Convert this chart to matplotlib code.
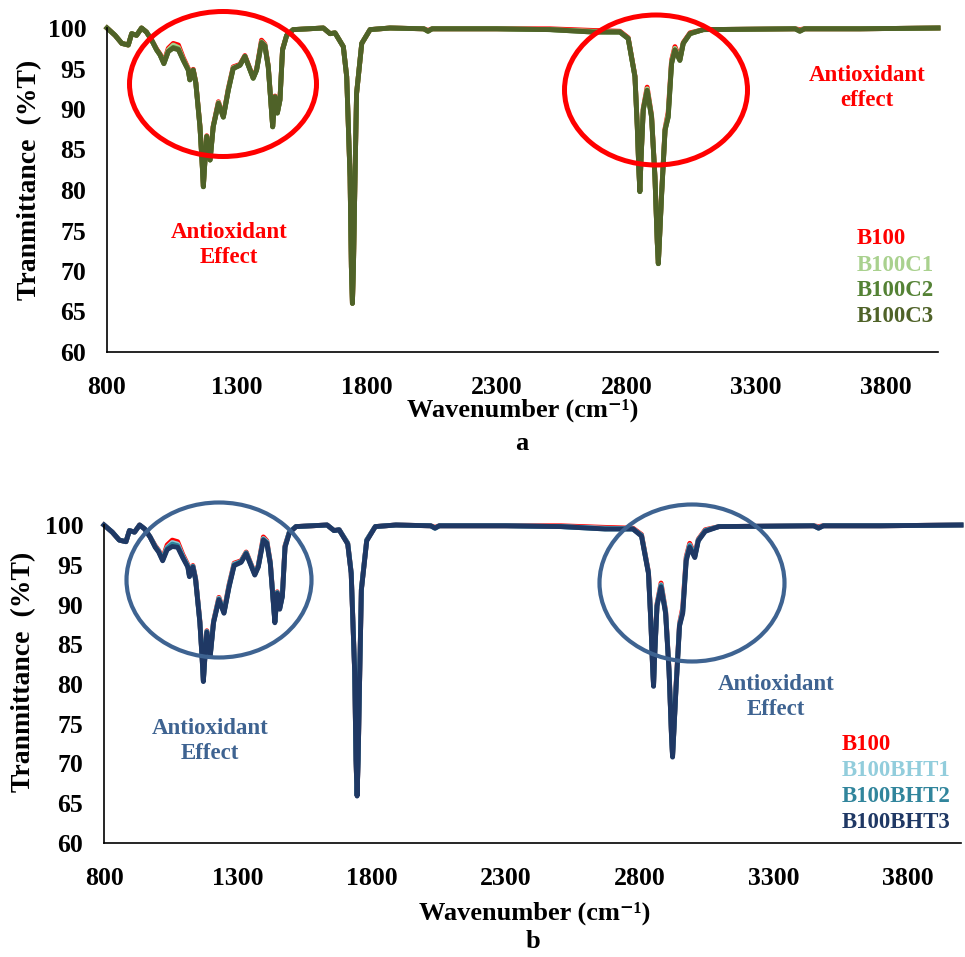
import matplotlib
matplotlib.use("Agg")
import matplotlib.pyplot as plt
from matplotlib.patches import Ellipse

plt.rcParams['font.family'] = ['Liberation Serif', 'DejaVu Serif']
plt.rcParams['font.weight'] = 'bold'

# wavenumber (cm-1) and transmittance (%T)
wn = [800, 831, 857, 882, 895, 914, 933, 952, 972, 991,
      1004, 1019, 1036, 1055, 1075, 1094, 1113, 1119, 1132, 1142,
      1158, 1166, 1171, 1176, 1184, 1197, 1209, 1229, 1248, 1267,
      1286, 1312, 1331, 1344, 1363, 1376, 1395, 1408, 1421, 1438,
      1447, 1456, 1466, 1476, 1492, 1517, 1633, 1659, 1678, 1710,
      1723, 1736, 1741, 1745, 1749, 1755, 1761, 1781, 1813, 1890,
      2020, 2036, 2052, 2300, 2506, 2671, 2775, 2807, 2833, 2842,
      2848, 2852, 2856, 2865, 2880, 2897, 2910, 2919, 2923, 2927,
      2936, 2949, 2961, 2974, 2987, 3006, 3019, 3045, 3096, 3450,
      3468, 3486, 3700, 4000]

b100 = [100.0, 99.1, 98.1, 97.9, 99.3, 99.1, 100.0, 99.5, 98.5, 97.4,
        96.8, 95.8, 97.5, 98.1, 97.9, 96.3, 95.0, 93.7, 94.9, 93.3,
        87.9, 83.6, 80.5, 83.1, 86.7, 83.8, 87.9, 90.9, 89.1, 92.5,
        95.2, 95.5, 96.6, 95.5, 93.9, 94.9, 98.5, 98.0, 95.3, 87.9,
        91.6, 89.6, 91.2, 97.4, 99.1, 99.8, 100.0, 99.3, 99.4, 97.7,
        94.0, 81.6, 70.5, 66.0, 70.5, 81.6, 91.9, 98.1, 99.8, 100.0,
        99.9, 99.7, 99.9, 99.9, 99.9, 99.7, 99.6, 98.8, 94.1, 87.9,
        82.6, 79.9, 83.6, 90.1, 92.7, 89.2, 81.7, 73.6, 71.0, 73.6,
        79.8, 87.6, 89.6, 96.0, 97.7, 96.2, 98.2, 99.4, 99.8, 99.9,
        99.8, 99.9, 99.9, 100.0]

b100c1 = [100.0, 99.1, 98.1, 97.9, 99.3, 99.1, 100.0, 99.5, 98.5, 97.3,
          96.7, 95.7, 97.3, 97.9, 97.6, 96.1, 94.9, 93.6, 94.8, 93.2,
          87.8, 83.5, 80.4, 83.0, 86.6, 83.7, 87.8, 90.8, 89.0, 92.4,
          95.1, 95.4, 96.5, 95.4, 93.8, 94.8, 98.3, 97.9, 95.2, 87.8,
          91.5, 89.5, 91.1, 97.3, 99.1, 99.8, 100.0, 99.3, 99.4, 97.7,
          94.0, 81.6, 70.5, 66.0, 70.5, 81.6, 91.9, 98.1, 99.8, 100.0,
          99.9, 99.6, 99.9, 99.9, 99.8, 99.6, 99.5, 98.7, 94.0, 87.8,
          82.5, 79.8, 83.5, 90.0, 92.5, 89.1, 81.6, 73.5, 70.9, 73.5,
          79.7, 87.5, 89.3, 95.8, 97.5, 96.1, 98.1, 99.3, 99.8, 99.9,
          99.7, 99.9, 99.9, 100.0]

b100c2 = [100.0, 99.1, 98.1, 97.9, 99.3, 99.1, 100.0, 99.5, 98.5, 97.3,
          96.7, 95.6, 97.1, 97.6, 97.4, 96.0, 94.8, 93.6, 94.8, 93.2,
          87.8, 83.5, 80.4, 83.0, 86.6, 83.7, 87.8, 90.7, 89.0, 92.3,
          95.0, 95.4, 96.5, 95.4, 93.8, 94.8, 98.2, 97.8, 95.2, 87.8,
          91.5, 89.5, 91.1, 97.3, 99.1, 99.8, 100.0, 99.3, 99.4, 97.7,
          94.0, 81.6, 70.5, 66.0, 70.5, 81.6, 91.9, 98.1, 99.8, 100.0,
          99.9, 99.6, 99.9, 99.9, 99.8, 99.5, 99.5, 98.7, 94.0, 87.8,
          82.5, 79.8, 83.5, 89.9, 92.3, 89.0, 81.6, 73.5, 70.9, 73.5,
          79.6, 87.4, 89.0, 95.6, 97.3, 96.0, 98.1, 99.3, 99.8, 99.9,
          99.6, 99.9, 99.9, 100.0]

b100c3 = [100.0, 99.1, 98.1, 97.9, 99.3, 99.1, 100.0, 99.5, 98.5, 97.3,
          96.7, 95.6, 97.1, 97.5, 97.3, 96.0, 94.8, 93.6, 94.8, 93.2,
          87.8, 83.5, 80.4, 83.0, 86.6, 83.7, 87.8, 90.7, 89.0, 92.3,
          95.0, 95.4, 96.5, 95.4, 93.8, 94.8, 98.2, 97.8, 95.2, 87.8,
          91.5, 89.5, 91.1, 97.3, 99.1, 99.8, 100.0, 99.3, 99.4, 97.7,
          94.0, 81.6, 70.5, 66.0, 70.5, 81.6, 91.9, 98.1, 99.8, 100.0,
          99.9, 99.6, 99.9, 99.9, 99.8, 99.5, 99.5, 98.7, 94.0, 87.8,
          82.5, 79.8, 83.5, 89.9, 92.3, 89.0, 81.6, 73.5, 70.9, 73.5,
          79.6, 87.4, 89.0, 95.6, 97.3, 96.0, 98.1, 99.3, 99.8, 99.9,
          99.6, 99.9, 99.9, 100.0]

b100bht1 = [100.0, 99.1, 98.1, 97.9, 99.3, 99.1, 100.0, 99.5, 98.5, 97.3,
            96.7, 95.7, 97.2, 97.8, 97.6, 96.1, 94.9, 93.6, 94.8, 93.2,
            87.8, 83.5, 80.4, 83.0, 86.6, 83.7, 87.8, 90.8, 89.0, 92.4,
            95.1, 95.4, 96.5, 95.4, 93.8, 94.8, 98.3, 97.9, 95.2, 87.8,
            91.5, 89.5, 91.1, 97.3, 99.1, 99.8, 100.0, 99.3, 99.4, 97.7,
            94.0, 81.6, 70.5, 66.0, 70.5, 81.6, 91.9, 98.1, 99.8, 100.0,
            99.9, 99.6, 99.9, 99.9, 99.8, 99.6, 99.5, 98.7, 94.0, 87.8,
            82.5, 79.8, 83.5, 90.0, 92.5, 89.1, 81.6, 73.5, 70.9, 73.5,
            79.7, 87.5, 89.3, 95.8, 97.5, 96.1, 98.1, 99.3, 99.8, 99.9,
            99.7, 99.9, 99.9, 100.0]

b100bht2 = [100.0, 99.1, 98.1, 97.9, 99.3, 99.1, 100.0, 99.5, 98.5, 97.3,
            96.7, 95.6, 97.1, 97.6, 97.4, 96.0, 94.8, 93.6, 94.8, 93.2,
            87.8, 83.5, 80.4, 83.0, 86.6, 83.7, 87.8, 90.7, 89.0, 92.3,
            95.0, 95.4, 96.5, 95.4, 93.8, 94.8, 98.2, 97.8, 95.2, 87.8,
            91.5, 89.5, 91.1, 97.3, 99.1, 99.8, 100.0, 99.3, 99.4, 97.7,
            94.0, 81.6, 70.5, 66.0, 70.5, 81.6, 91.9, 98.1, 99.8, 100.0,
            99.9, 99.6, 99.9, 99.9, 99.8, 99.5, 99.5, 98.7, 94.0, 87.8,
            82.5, 79.8, 83.5, 89.9, 92.4, 89.0, 81.6, 73.5, 70.9, 73.5,
            79.6, 87.4, 89.1, 95.7, 97.4, 96.0, 98.1, 99.3, 99.8, 99.9,
            99.6, 99.9, 99.9, 100.0]

b100bht3 = [100.0, 99.1, 98.1, 97.9, 99.3, 99.1, 100.0, 99.5, 98.5, 97.2,
            96.6, 95.5, 96.9, 97.3, 97.2, 95.9, 94.7, 93.5, 94.7, 93.1,
            87.7, 83.4, 80.3, 82.9, 86.5, 83.6, 87.7, 90.6, 88.9, 92.2,
            94.9, 95.3, 96.4, 95.3, 93.7, 94.7, 98.1, 97.7, 95.1, 87.7,
            91.4, 89.4, 91.0, 97.2, 99.0, 99.8, 100.0, 99.3, 99.4, 97.6,
            93.9, 81.5, 70.4, 65.9, 70.4, 81.5, 91.8, 98.0, 99.8, 100.0,
            99.9, 99.6, 99.9, 99.9, 99.8, 99.5, 99.5, 98.6, 93.9, 87.7,
            82.4, 79.7, 83.4, 89.8, 92.2, 88.9, 81.5, 73.4, 70.8, 73.4,
            79.5, 87.3, 88.9, 95.5, 97.2, 95.9, 98.0, 99.2, 99.8, 99.9,
            99.6, 99.9, 99.9, 100.0]

names_a = ['B100', 'B100C1', 'B100C2', 'B100C3']
series_a = [b100, b100c1, b100c2, b100c3]
colors_a = ['#FF0000', '#A9D18E', '#548235', '#4F6228']

names_b = ['B100', 'B100BHT1', 'B100BHT2', 'B100BHT3']
series_b = [b100, b100bht1, b100bht2, b100bht3]
colors_b = ['#FF0000', '#92CDDC', '#31859C', '#1F3864']

xticks = [800, 1300, 1800, 2300, 2800, 3300, 3800]
yticks = [60, 65, 70, 75, 80, 85, 90, 95, 100]

W, H = 965, 957
fig = plt.figure(figsize=(W / 100, H / 100), dpi=100)


def box(x0, y0, x1, y1):
    # pixel box (top-left origin) -> figure fraction rect
    return [x0 / W, 1 - y1 / H, (x1 - x0) / W, (y1 - y0) / H]


def style(ax):
    ax.set_xlim(800, 4000)
    ax.set_ylim(60, 100)
    ax.set_xticks(xticks)
    ax.set_yticks(yticks)
    ax.tick_params(axis='x', length=0, labelsize=18.5, pad=17)
    ax.tick_params(axis='y', length=0, labelsize=18.5, pad=15)
    for s in ['top', 'right']:
        ax.spines[s].set_visible(False)
    for s in ['left', 'bottom']:
        ax.spines[s].set_linewidth(1.2)
        ax.spines[s].set_color('black')
    ax.patch.set_alpha(0)


ax1 = fig.add_axes(box(107, 28, 938, 352))
for y, c in zip(series_a, colors_a):
    ax1.plot(wn, y, color=c, lw=3.5, solid_joinstyle='round', clip_on=False)
style(ax1)

ax2 = fig.add_axes(box(104, 525, 961, 843))
for y, c in zip(series_b, colors_b):
    ax2.plot(wn, y, color=c, lw=3.5, solid_joinstyle='round', clip_on=False)
style(ax2)


def ftext(x, y, s, **kw):
    fig.text(x / W, 1 - y / H, s, ha='center', va='center', fontweight='bold', **kw)


# axis titles and panel letters
ftext(30, 180, 'Tranmittance  (%T)', rotation=90, fontsize=20)
ftext(24, 672, 'Tranmittance  (%T)', rotation=90, fontsize=20)
ftext(523, 410, 'Wavenumber (cm\u207b\u00b9)', fontsize=19)
ftext(535, 913, 'Wavenumber (cm\u207b\u00b9)', fontsize=19)
ftext(522, 444, 'a', fontsize=19)
ftext(533, 941, 'b', fontsize=19)

# legend as coloured text
for i, (n, c) in enumerate(zip(names_a, colors_a)):
    fig.text(857 / W, 1 - (239 + i * 26) / H, n, color=c, fontsize=16.5,
             fontweight='bold', ha='left', va='center')
for i, (n, c) in enumerate(zip(names_b, colors_b)):
    fig.text(842 / W, 1 - (745 + i * 26) / H, n, color=c, fontsize=16.5,
             fontweight='bold', ha='left', va='center')

# annotations
red = '#FF0000'
blue = '#3E6391'
ftext(229, 245, 'Antioxidant\nEffect', color=red, fontsize=16.5, linespacing=1.25)
ftext(867, 88, 'Antioxidant\neffect', color=red, fontsize=16.5, linespacing=1.25)
ftext(210, 741, 'Antioxidant\nEffect', color=blue, fontsize=16.5, linespacing=1.25)
ftext(776, 697, 'Antioxidant\nEffect', color=blue, fontsize=16.5, linespacing=1.25)

for cx, cy, w, h, c, lw in [(223, 84, 187, 145, red, 3.6),
                            (656, 90, 183, 150, red, 3.6),
                            (219, 580, 185, 155, blue, 3.0),
                            (692, 583, 185, 157, blue, 3.0)]:
    e = Ellipse((cx / W, 1 - cy / H), w / W, h / H, transform=fig.transFigure,
                fill=False, edgecolor=c, lw=lw)
    fig.add_artist(e)

fig.savefig('out.png', dpi=100)
